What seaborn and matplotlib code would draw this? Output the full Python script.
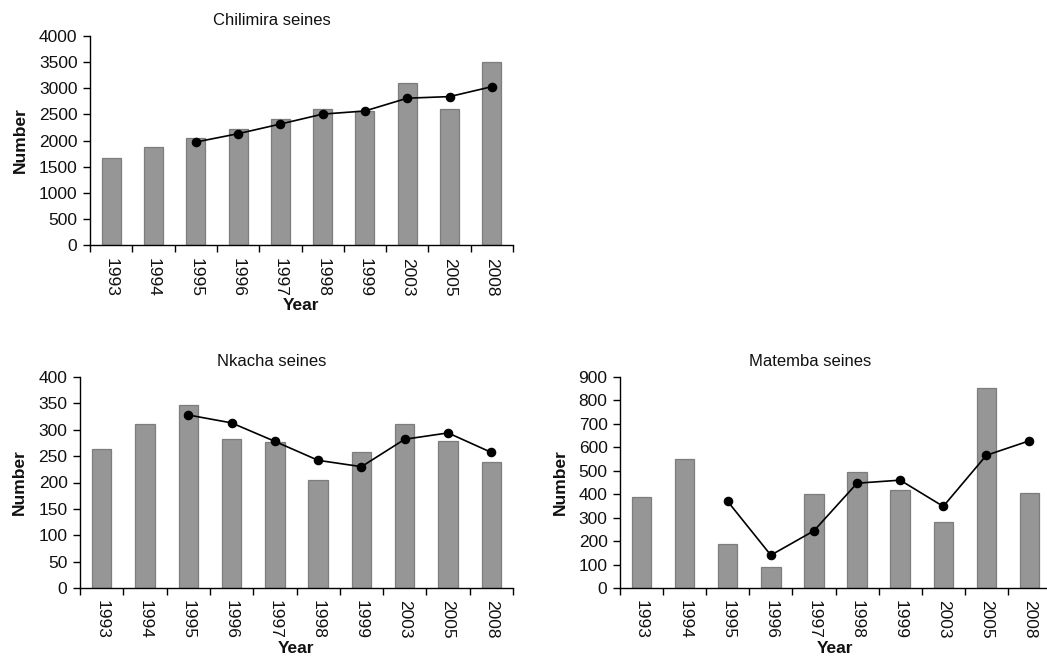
import matplotlib
matplotlib.use("Agg")
import matplotlib.pyplot as plt
from matplotlib.ticker import FixedLocator, NullFormatter
import numpy as np
import pandas as pd
import seaborn as sns

sns.set_theme(style="white")
plt.rcParams["font.family"] = ["Liberation Sans", "DejaVu Sans"]

years = ["1993", "1994", "1995", "1996", "1997", "1998", "1999", "2003", "2005", "2008"]

chilimira_counts = [1660, 1880, 2040, 2220, 2410, 2600, 2570, 3100, 2600, 3500]
chilimira_avg = [np.nan, np.nan, 1970, 2130, 2315, 2505, 2565, 2810, 2840, 3030]

nkacha_counts = [263, 310, 347, 282, 276, 205, 258, 310, 279, 239]
nkacha_avg = [np.nan, np.nan, 328, 313, 278, 242, 230, 282, 294, 257]

matemba_counts = [390, 551, 188, 91, 399, 496, 419, 281, 852, 406]
matemba_avg = [np.nan, np.nan, 369, 140, 244, 447, 460, 348, 566, 628]

panels = [
    ("Chilimira seines", chilimira_counts, chilimira_avg, [0, 500, 1000, 1500, 2000, 2500, 3000, 3500, 4000], 4000),
    ("Nkacha seines", nkacha_counts, nkacha_avg, [0, 50, 100, 150, 200, 250, 300, 350, 400], 400),
    ("Matemba seines", matemba_counts, matemba_avg, [0, 100, 200, 300, 400, 500, 600, 700, 800, 900], 900),
]

W, H = 1047, 662
fig = plt.figure(figsize=(W / 100, H / 100), dpi=100)

# axes boxes in pixels: left, top, right, bottom, and title centre (px)
boxes = [
    (90, 36, 513, 245, 272),
    (80, 377, 513, 588, 272),
    (620, 377, 1051, 588, 810),
]

BAR = "#969696"
EDGE = "#7d7d7d"
FS = 12.5

for (title, counts, avg, yticks, ymax), (l, t, r, b, tx) in zip(panels, boxes):
    ax = fig.add_axes([l / W, 1 - b / H, (r - l) / W, (b - t) / H])
    df = pd.DataFrame({"Year": years, "Number": counts, "Mean": avg})

    sns.barplot(data=df, x="Year", y="Number", order=years, color=BAR,
                saturation=1, width=0.45, edgecolor=EDGE, linewidth=0.9, ax=ax)
    sns.pointplot(data=df.dropna(), x="Year", y="Mean", order=years,
                  color="black", markers="o", linestyles="-", errorbar=None,
                  markersize=6, linewidth=1.2, ax=ax)

    ax.set_xlim(-0.5, len(years) - 0.5)
    ax.set_ylim(0, ymax)
    ax.set_yticks(yticks)
    ax.set_yticklabels([str(v) for v in yticks], fontsize=FS, color="#111111")
    ax.set_xticks(range(len(years)))
    ax.set_xticklabels(years, rotation=-90, fontsize=FS, color="#111111")

    # category boundary tick marks on the x axis
    ax.xaxis.set_minor_locator(FixedLocator(np.arange(-0.5, len(years), 1.0)))
    ax.xaxis.set_minor_formatter(NullFormatter())
    ax.tick_params(axis="x", which="major", length=0, pad=9)
    ax.tick_params(axis="x", which="minor", length=5, width=1, color="black",
                   direction="out", bottom=True)
    ax.tick_params(axis="y", which="major", length=5, width=1, color="black",
                   direction="out", left=True, pad=4)

    for side in ("top", "right"):
        ax.spines[side].set_visible(False)
    for side in ("left", "bottom"):
        ax.spines[side].set_color("black")
        ax.spines[side].set_linewidth(1.0)

    ax.set_title(title, fontsize=12, pad=8, color="#111111", x=(tx - l) / (r - l))
    ax.set_xlabel("Year", fontsize=FS, fontweight="bold", labelpad=1, color="#111111")
    ax.set_ylabel("Number", fontsize=FS, fontweight="bold", labelpad=8, color="#111111")
    ax.grid(False)
    ax.set_facecolor("white")

fig.savefig("out.png", dpi=100, facecolor="white")
